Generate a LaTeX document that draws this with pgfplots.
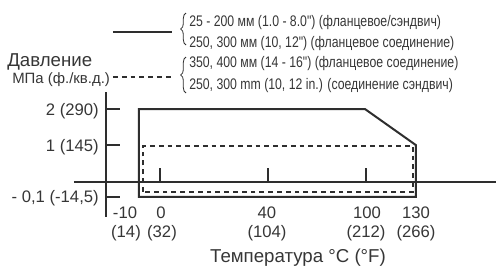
\documentclass[border=0pt]{standalone}
\usepackage{pgfplots}
\pgfplotsset{compat=1.18}
\usetikzlibrary{decorations.pathreplacing}
\usepackage{fontspec}
\setmainfont{Liberation Sans}
\newfontfamily\narrowfont[FakeStretch=0.8]{Liberation Sans}
\definecolor{ink}{HTML}{2E2E2E}
\definecolor{txt}{HTML}{363636}
\begin{document}
\begin{tikzpicture}
\begin{axis}[hide axis, clip=false, x=2.025pt, y=27.375pt,
  xmin=-10, xmax=100, ymin=-0.5, ymax=2.1]
% solid envelope: 25-200 mm / 250,300 mm flanged
\addplot[ink, line width=1.5pt, line join=miter, mark=none] coordinates {
  (-7.78,-0.41) (-7.78,2.0) (75.9,2.0) (94.8,1.01) (94.8,-0.41)} -- cycle;
% dashed envelope: 350,400 mm flanged / 250,300 mm wafer
\addplot[ink, line width=1.5pt, dash pattern=on 3.6pt off 3pt, mark=none] coordinates {
  (-6.3,-0.265) (-6.3,0.99) (93.7,0.99) (93.7,-0.265)} -- cycle;
\coordinate (O) at (axis cs:0,0);
\end{axis}
\begin{scope}[shift={(O)}]
\begin{scope}[x=0.75pt, y=-0.75pt, shift={(-160,-182)}]
 % axes
 \draw[ink, line width=1.8pt] (106,92) -- (106,217);
 \draw[ink, line width=1.8pt] (74,182) -- (496,182);
 \foreach \yy in {109,145,197} \draw[ink, line width=1.8pt] (106,\yy) -- (120,\yy);
 \foreach \xx in {160,268,366,416} \draw[ink, line width=1.6pt] (\xx,182) -- (\xx,168);
 % y labels
 \begin{scope}[every node/.style={inner sep=0pt, text=txt, font=\fontsize{12.5}{14}\selectfont}]
 \node[anchor=base east] at (99,115) {2 (290)};
 \node[anchor=base east] at (99,151) {1 (145)};
 \node[anchor=base east] at (99,202.5) {- 0,1 (-14,5)};
 \node[anchor=base] at (125,218.5) {-10};
 \node[anchor=base] at (126,237) {(14)};
 \node[anchor=base] at (161,218.5) {0};
 \node[anchor=base] at (162,237) {(32)};
 \node[anchor=base] at (267,218.5) {40};
 \node[anchor=base] at (267,237) {(104)};
 \node[anchor=base] at (367,218.5) {100};
 \node[anchor=base] at (366,237) {(212)};
 \node[anchor=base] at (416,218.5) {130};
 \node[anchor=base] at (416,237) {(266)};
 \end{scope}
 \node[anchor=base west, inner sep=0pt, text=txt, font=\fontsize{11.2}{13}\selectfont] at (12,83.5) {МПа (ф./кв.д.)};
 \node[anchor=base, inner sep=0pt, text=txt, font=\fontsize{14}{16}\selectfont] at (298,262) {Температура °C (°F)};
 \node[anchor=base west, inner sep=0pt, text=txt, font=\fontsize{14}{16}\selectfont] at (7,66.5) {Давление};
 % legend
 \draw[ink, line width=1.5pt] (113,32) -- (172,32);
 \draw[ink, line width=1.5pt, dash pattern=on 3.6pt off 3pt] (113,77) -- (172,77);
 \draw[ink, line width=0.6pt, decorate, decoration={brace, amplitude=4pt}] (186,45) -- (186,13);
 \draw[ink, line width=0.6pt, decorate, decoration={brace, amplitude=4pt}] (186,93) -- (186,57);
 \begin{scope}[every node/.style={inner sep=0pt, anchor=base west, text=txt, font=\narrowfont\fontsize{11.5}{13}\selectfont}]
 \node at (189,26) {25 - 200 мм (1.0 - 8.0") (фланцевое/сэндвич)};
 \node at (189,47.5) {250, 300 мм (10, 12") (фланцевое соединение)};
 \node at (189,67.5) {350, 400 мм (14 - 16") (фланцевое соединение)};
 \node at (189,89) {250, 300 mm (10, 12 in.) (соединение сэндвич)};
 \end{scope}
 \pgfresetboundingbox
 \path (0,0) rectangle (496,269);
\end{scope}
\end{scope}
\end{tikzpicture}
\end{document}
